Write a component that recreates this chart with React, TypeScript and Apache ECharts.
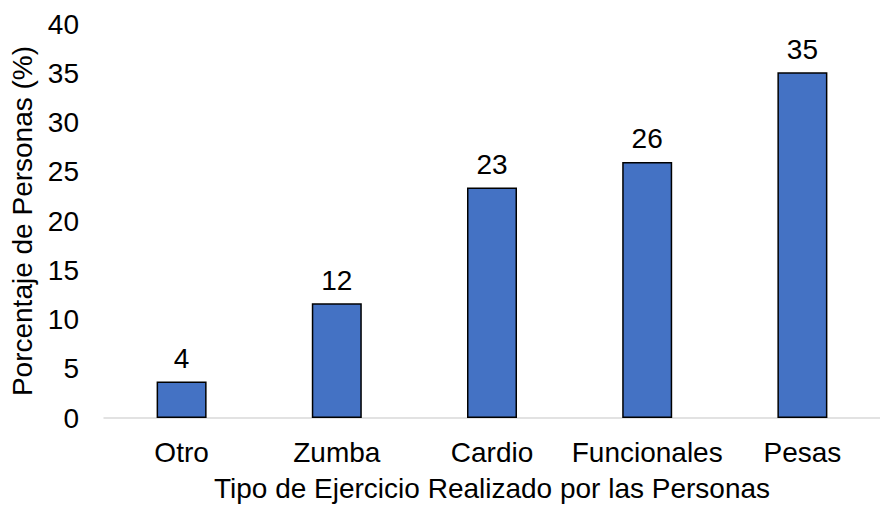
import React, { useEffect, useRef } from "react";
import * as echarts from "echarts";

const categories = ["Otro", "Zumba", "Cardio", "Funcionales", "Pesas"];
const values = [3.7, 11.65, 23.4, 26.0, 35.1];
const yTicks = { min: 0, max: 40, interval: 5 };
const xTitle = "Tipo de Ejercicio Realizado por las Personas";
const yTitle = "Porcentaje de Personas (%)";

const FONT = "'Liberation Sans', Arial, sans-serif";
const FS = 28;

export default function App() {
  const ref = useRef<HTMLDivElement>(null);
  useEffect(() => {
    if (!ref.current) return;
    const chart = echarts.init(ref.current, null, { renderer: "svg" });
    chart.setOption({
      animation: false,
      backgroundColor: "#ffffff",
      textStyle: { fontFamily: FONT },
      grid: { left: 104, top: 24, width: 787, height: 394, containLabel: false },
      xAxis: {
        type: "category",
        data: categories,
        name: xTitle,
        nameLocation: "middle",
        nameGap: 56,
        nameTextStyle: { fontSize: FS, color: "#000", fontFamily: FONT },
        axisLine: { show: true, lineStyle: { color: "#d9d9d9", width: 1.5 } },
        axisTick: { show: false },
        axisLabel: { fontSize: FS, color: "#000", margin: 20, interval: 0, fontFamily: FONT },
        splitLine: { show: false },
      },
      yAxis: {
        type: "value",
        min: yTicks.min,
        max: yTicks.max,
        interval: yTicks.interval,
        name: yTitle,
        nameLocation: "middle",
        nameGap: 66,
        nameTextStyle: { fontSize: FS, color: "#000", fontFamily: FONT },
        axisLine: { show: false },
        axisTick: { show: false },
        axisLabel: { fontSize: FS, color: "#000", margin: 25, fontFamily: FONT },
        splitLine: { show: false },
      },
      series: [
        {
          type: "bar",
          data: values,
          barWidth: 50,
          itemStyle: { color: "#4472C4", borderColor: "#000", borderWidth: 1.5 },
          label: {
            show: true,
            position: "top",
            distance: 9,
            fontSize: FS,
            color: "#000",
            fontFamily: FONT,
            formatter: (p: any) => String(Math.round(p.value)),
          },
        },
      ],
    });
    return () => chart.dispose();
  }, []);
  return (
    <div
      ref={ref}
      style={{ position: "fixed", left: 0, top: 0, width: 880, height: 508, background: "#fff" }}
    />
  );
}
